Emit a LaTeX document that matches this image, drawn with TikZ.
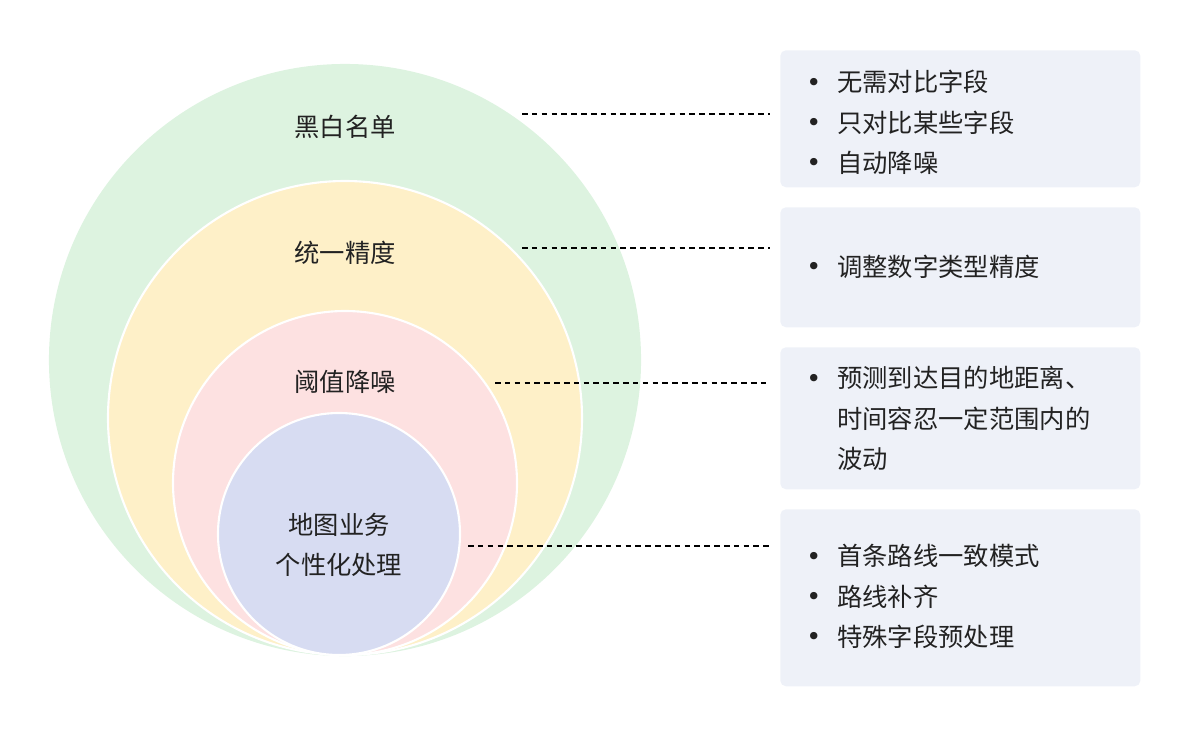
\documentclass[tikz,border=0pt]{standalone}
\usepackage{fontspec}
\setmainfont{Noto Sans CJK SC}
\newfontfamily\bulletfont{DejaVu Sans}
\usetikzlibrary{positioning, calc}
\definecolor{ringgreen}{HTML}{DDF3E0}
\definecolor{ringyellow}{HTML}{FEF0C8}
\definecolor{ringpink}{HTML}{FDE1E1}
\definecolor{ringblue}{HTML}{D7DCF2}
\definecolor{boxfill}{HTML}{EEF1F8}
\definecolor{txt}{HTML}{222222}
\newcommand{\blt}{{\bulletfont\raisebox{0.5pt}{•}}}

\begin{document}
\begin{tikzpicture}[x=0.025cm, y=-0.025cm]
	\tikzstyle{ring}=[draw=white, line width=1.5pt]
	\tikzstyle{ringlabel}=[text=txt, font=\fontsize{18}{28.5}\selectfont, align=center]
	\tikzstyle{notebox}=[rectangle, rounded corners=4pt, fill=boxfill, anchor=north west, minimum width=9cm, inner sep=0pt]
	\tikzstyle{notetext}=[anchor=west, text=txt, font=\fontsize{18}{28.5}\selectfont, inner sep=0pt]
	\tikzstyle{dashline}=[dashed, black, line width=0.8pt, dash pattern=on 4pt off 3pt]

	\useasboundingbox (0,0) rectangle (1190,738);

	% rings
	\fill[ring, ringgreen] (345,360) circle (295);
	\filldraw[ring, fill=ringyellow] (345,418) circle (237);
	\filldraw[ring, fill=ringpink] (345,483) circle (172);
	\filldraw[ring, fill=ringblue] (339,534) circle (121);

	\node[ringlabel] (lbl1) at (345,127) {黑白名单};
	\node[ringlabel] (lbl2) at (345,253) {统一精度};
	\node[ringlabel] (lbl3) at (345,382) {阈值降噪};
	\node[ringlabel] (lbl4) at (339,545) {地图业务\\个性化处理};

	% note boxes
	\node[notebox, minimum height=137*0.025cm] (box1) at (780,50) {};
	\node[notebox, minimum height=120*0.025cm] (box2) at (780,207) {};
	\node[notebox, minimum height=142*0.025cm] (box3) at (780,347) {};
	\node[notebox, minimum height=177*0.025cm] (box4) at (780,509) {};

	\node[notetext] (note1) at (806,124) {\begin{tabular}{@{}p{22pt}@{}l@{}}\blt & 无需对比字段\\ \blt & 只对比某些字段\\ \blt & 自动降噪\end{tabular}};
	\node[notetext] (note2) at (806,268) {\begin{tabular}{@{}p{22pt}@{}l@{}}\blt & 调整数字类型精度\end{tabular}};
	\node[notetext] (note3) at (806,420) {\begin{tabular}{@{}p{22pt}@{}l@{}}\blt & 预测到达目的地距离、\\ & 时间容忍一定范围内的\\ & 波动\end{tabular}};
	\node[notetext] (note4) at (806,598) {\begin{tabular}{@{}p{22pt}@{}l@{}}\blt & 首条路线一致模式\\ \blt & 路线补齐\\ \blt & 特殊字段预处理\end{tabular}};

	% connectors
	\coordinate (d1) at (522,114);
	\coordinate (d2) at (522,248);
	\coordinate (d3) at (495,383);
	\coordinate (d4) at (468,546);
	\draw[dashline] (d1) -- ($(d1 -| box1.west)+(-10,0)$);
	\draw[dashline] (d2) -- ($(d2 -| box2.west)+(-10,0)$);
	\draw[dashline] (d3) -- ($(d3 -| box3.west)+(-10,0)$);
	\draw[dashline] (d4) -- ($(d4 -| box4.west)+(-10,0)$);
\end{tikzpicture}
\end{document}
